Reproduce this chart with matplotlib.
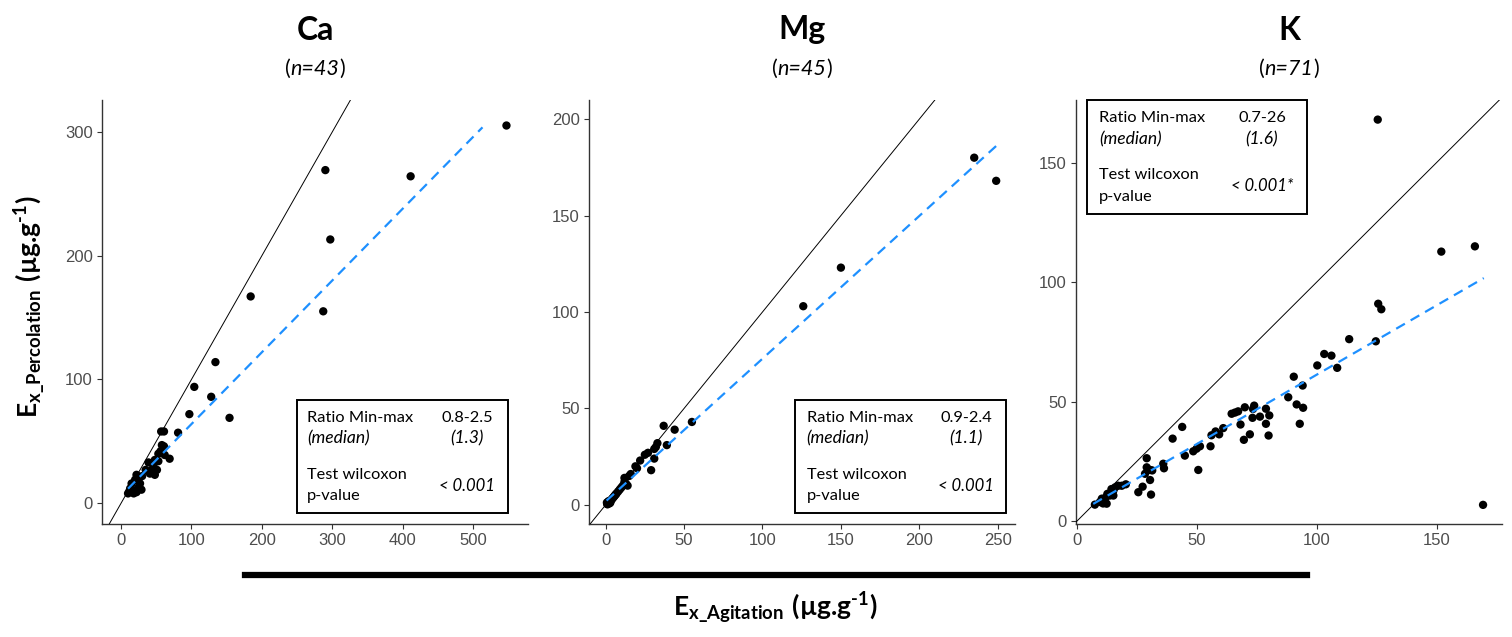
import numpy as np
import matplotlib
matplotlib.use('Agg')
import matplotlib.pyplot as plt
from matplotlib.patches import Rectangle

plt.rcParams['mathtext.fontset'] = 'custom'
plt.rcParams['mathtext.rm'] = 'Lato:bold'
plt.rcParams['mathtext.it'] = 'Lato:italic'
plt.rcParams['mathtext.bf'] = 'Lato:bold'

# --- data ---
elements = ['Ca', 'Mg', 'K']
n_obs = [43, 45, 71]

ca_x = [547, 411, 290, 297, 184, 287, 134, 104, 128, 97, 154, 57, 61, 81, 58, 61, 53, 62,
        69, 53, 39, 46, 51, 41, 48, 22, 20, 15, 27, 13, 29, 10, 18, 22, 44, 35, 30, 25,
        16, 12, 48, 56, 24]
ca_y = [305, 264, 269, 213, 167, 155, 114, 94, 86, 72, 69, 58, 58, 57, 47, 46, 40, 39,
        36, 34, 33, 30, 27, 24, 23, 23, 19, 16, 16, 12, 11, 8, 8, 9, 27, 27, 22, 13,
        11, 10, 35, 42, 18]

mg_x = [235, 249, 150, 126, 55, 37, 44, 39, 33, 31, 31, 27, 29, 22, 19, 20, 15, 12, 13,
        14, 10, 11, 8, 7, 6, 5, 4, 3, 2, 1, 1.5, 2.5, 3.5, 4.5, 5.5, 6.5, 0.8, 1.2, 2,
        3, 9, 12, 16, 25, 32]
mg_y = [180, 168, 123, 103, 43, 41, 39, 31, 32, 29, 24, 27, 18, 23, 20, 19, 15, 14, 11,
        10, 9, 10, 7, 6, 5, 4, 3, 2, 1, 0.5, 1.5, 0.8, 2.5, 3.5, 4.5, 5.5, 1.2, 0.3, 2,
        1.2, 8, 12, 16, 26, 30]

k_x = [125.5, 152, 166, 169.4, 125.7, 127, 124.7, 113.6, 103.2, 106.2, 100.3, 108.6,
       90.5, 88.2, 94.2, 91.7, 94.4, 93, 78.9, 80.3, 78.9, 80, 74, 76.4, 73.3, 70.1,
       67.3, 64.6, 68.3, 72.2, 69.7, 61.1, 59.4, 57.9, 56.2, 55.8, 51.4, 50, 48.6,
       50.7, 45.1, 44, 40, 36.1, 36.4, 29.2, 29.2, 30.6, 28.5, 31.5, 30.6, 27.5, 25.7,
       31, 7.6, 9.7, 11.8, 12.5, 13.8, 15.3, 16, 17.3, 18.8, 15.3, 14.5, 12.8, 10.5,
       66, 73.5, 20.5, 11]
k_y = [168, 112.8, 115, 6.9, 91, 88.7, 75.3, 76.2, 70, 69.3, 65.2, 64.2, 60.5, 51.9,
       56.8, 48.9, 47.5, 40.8, 47.1, 44.3, 40.8, 35.9, 48.4, 43.8, 43.3, 47.7, 46, 45,
       40.5, 36.4, 34.1, 39, 36.4, 37.6, 36, 31.4, 31.4, 30.4, 29.3, 21.5, 27.5, 39.5,
       34.6, 24.1, 22.2, 26.4, 22.6, 21.5, 19.9, 21.3, 17.3, 14.5, 12.2, 11.2, 7, 8.1,
       9.5, 7.4, 10.8, 12.8, 14.2, 14.9, 14.9, 10.8, 13.5, 11.5, 9.5, 45.5, 47, 15.5,
       7.5]

# linear fit (intercept, slope, x start, x end)
fit_intercept = [6, 1.8, 3.3]
fit_slope = [0.58, 0.74, 0.58]
fit_xmin = [10, 0.6, 6.9]
fit_xmax = [513, 249, 169.7]

ratio_range = ['0.8-2.5', '0.9-2.4', '0.7-26']
ratio_median = ['(1.3)', '(1.1)', '(1.6)']
p_values = ['< 0.001', '< 0.001', '< 0.001*']

xs = [ca_x, mg_x, k_x]
ys = [ca_y, mg_y, k_y]
xticks = [[0, 100, 200, 300, 400, 500], [0, 50, 100, 150, 200, 250], [0, 50, 100, 150]]
yticks = [[0, 100, 200, 300], [0, 50, 100, 150, 200], [0, 50, 100, 150]]
xlims = [(-27.4, 578), (-10.8, 261), (-0.4, 177.3)]
ylims = [(-16.7, 325.6), (-9.9, 209.9), (-1.1, 176.2)]

W, H = 1512, 637
fig = plt.figure(figsize=(W / 100, H / 100), dpi=100)

ax_px = [(101.7, 528.3), (588.7, 1015), (1075.7, 1502)]
ax_top, ax_bot = 100, 524
# box position in axes fraction: (x0, y0, x1, y1), text columns
box_pos = [(0.457, 0.026, 0.953, 0.292), (0.484, 0.026, 0.980, 0.292),
           (0.026, 0.731, 0.542, 1.0)]
txt_left = [0.481, 0.511, 0.055]
txt_right = [0.856, 0.885, 0.437]
txt_rows = [[0.250, 0.203, 0.1156, 0.066, 0.0896]] * 2 + [[0.957, 0.906, 0.823, 0.772, 0.797]]

axes_col = '#333333'
tick_col = '#4d4d4d'

for i in range(3):
    l, r = ax_px[i]
    ax = fig.add_axes([l / W, 1 - ax_bot / H, (r - l) / W, (ax_bot - ax_top) / H])
    ax.set_xlim(*xlims[i])
    ax.set_ylim(*ylims[i])
    for s in ['top', 'right']:
        ax.spines[s].set_visible(False)
    for s in ['left', 'bottom']:
        ax.spines[s].set_color(axes_col)
        ax.spines[s].set_linewidth(1.0)
    ax.set_xticks(xticks[i])
    ax.set_yticks(yticks[i])
    ax.tick_params(colors=axes_col, labelcolor=tick_col, length=3.5, width=0.8,
                   labelsize=12, pad=3)
    for lab in ax.get_xticklabels() + ax.get_yticklabels():
        lab.set_family('Liberation Sans')

    ax.scatter(xs[i], ys[i], s=36, color='black', edgecolors='none', zorder=2)
    ax.axline((0, 0), slope=1, color='black', lw=0.7, zorder=3)
    fx = np.array([fit_xmin[i], fit_xmax[i]])
    ax.plot(fx, fit_intercept[i] + fit_slope[i] * fx, color='#1e90ff', lw=1.6,
            dashes=(4.5, 3), zorder=3)

    x0, y0, x1, y1 = box_pos[i]
    ax.add_patch(Rectangle((x0, y0), x1 - x0, y1 - y0, transform=ax.transAxes,
                           fill=True, facecolor='white', edgecolor='black', lw=1.4,
                           zorder=4, clip_on=False))
    rows = txt_rows[i]
    kw = dict(transform=ax.transAxes, family='Lato', va='center', zorder=5)
    ax.text(txt_left[i], rows[0], 'Ratio Min-max', ha='left', fontsize=11.8, **kw)
    ax.text(txt_left[i], rows[1], '(median)', ha='left', style='italic', fontsize=12.6, **kw)
    ax.text(txt_left[i], rows[2], 'Test wilcoxon', ha='left', fontsize=11.8, **kw)
    ax.text(txt_left[i], rows[3], 'p-value', ha='left', fontsize=11.8, **kw)
    ax.text(txt_right[i], rows[0], ratio_range[i], ha='center', fontsize=11.8, **kw)
    ax.text(txt_right[i], rows[1], ratio_median[i], ha='center', style='italic',
            fontsize=12.6, **kw)
    ax.text(txt_right[i], rows[4], p_values[i], ha='center', style='italic',
            fontsize=12, **kw)

    cx = (l + r) / 2 / W
    fig.text(cx, 1 - 30 / H, elements[i], ha='center', va='center', fontsize=23,
             family='Lato', weight='bold')
    # "(n=43)" with italic middle part
    t = fig.text(cx, 1 - 69 / H, 'n=%d' % n_obs[i], ha='center', va='center',
                 fontsize=15.5, family='Lato', style='italic')
    plt.annotate('(', xy=(0, 0), xycoords=t, ha='right', va='bottom',
                 fontsize=15.5, family='Lato', annotation_clip=False)
    plt.annotate(')', xy=(1, 0), xycoords=t, ha='left', va='bottom',
                 fontsize=15.5, family='Lato', annotation_clip=False)

fig.text(30 / W, 1 - 307 / H,
         r'$\mathbf{E_{x\_Percolation}}$ $\mathbf{(µg\text{.}g^{\text{-}1})}$',
         rotation=90, ha='center', va='center', fontsize=19)
fig.text(775 / W, 1 - 608 / H,
         r'$\mathbf{E_{x\_Agitation}}$ $\mathbf{(µg\text{.}g^{\text{-}1})}$',
         ha='center', va='center', fontsize=19)
fig.add_artist(plt.Line2D([245 / W, 1307 / W], [1 - 575 / H, 1 - 575 / H],
                          color='black', lw=4.5, transform=fig.transFigure))

fig.savefig('out.png', dpi=100)
